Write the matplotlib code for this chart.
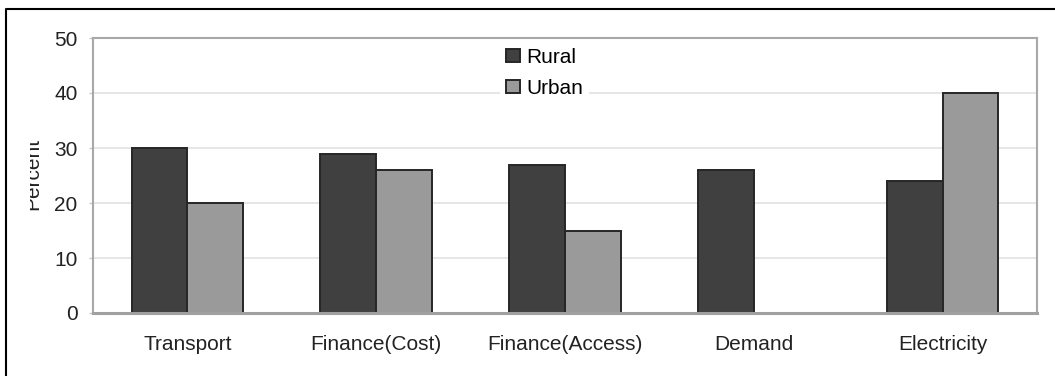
import numpy as np
import matplotlib
matplotlib.use("Agg")
import matplotlib.pyplot as plt
from matplotlib.lines import Line2D
from matplotlib.patches import Patch
from matplotlib.transforms import Bbox, TransformedBbox

plt.rcParams["font.family"] = ["Liberation Sans", "DejaVu Sans"]

categories = ["Transport", "Finance(Cost)", "Finance(Access)", "Demand", "Electricity"]
rural = [30, 29, 27, 26, 24]
urban = [20, 26, 15, 0, 40]
yticks = [0, 10, 20, 30, 40, 50]

W, H = 1055, 376
fig = plt.figure(figsize=(W / 100, H / 100), dpi=100)
ax = fig.add_axes([93 / W, 1 - 313 / H, (1037 - 93) / W, (313 - 38) / H])

x = np.arange(len(categories))
bw = 0.296
ax.bar(x - bw / 2, rural, bw, color="#404040", edgecolor="#262626", linewidth=1.4, zorder=3)
ax.bar(x + bw / 2, urban, bw, color="#9a9a9a", edgecolor="#262626", linewidth=1.4, zorder=3)

ax.set_xlim(-0.5, len(categories) - 0.5)
ax.set_ylim(0, 50)
ax.set_yticks(yticks)
ax.set_xticks(x)
ax.set_xticklabels(categories, fontsize=15, color="#222222")
ax.tick_params(axis="x", length=0, pad=16)
ax.tick_params(axis="y", length=3, width=1, color="#c8c8c8", pad=8, labelsize=15, labelcolor="#222222")

for v in yticks[1:-1]:
    ax.axhline(v, color="#e2e2e2", linewidth=1.2, zorder=1)

for side in ["top", "left", "right"]:
    ax.spines[side].set_color("#a8a8a8")
    ax.spines[side].set_linewidth(1.5)
ax.spines["bottom"].set_color("#a0a0a0")
ax.spines["bottom"].set_linewidth(2.2)
ax.spines["bottom"].set_zorder(4)

handles = [Patch(facecolor="#404040", edgecolor="#262626", linewidth=1.4, label="Rural"),
           Patch(facecolor="#9a9a9a", edgecolor="#262626", linewidth=1.4, label="Urban")]
leg = ax.legend(handles=handles, loc="upper left", bbox_to_anchor=(0.431, 0.987),
                borderaxespad=0, borderpad=0.3, frameon=True, fancybox=False,
                handlelength=0.67, handleheight=0.58, handletextpad=0.3,
                labelspacing=0.6, fontsize=15)
leg.get_frame().set_facecolor("white")
leg.get_frame().set_edgecolor("none")
leg.get_frame().set_alpha(1)
leg.set_zorder(5)

# y label, partly cut off at the left
lab = fig.text(42.5 / W, 1 - 174 / H, "Percent", rotation=90, fontsize=15,
               color="#222222", ha="right", va="center")
lab.set_clip_box(TransformedBbox(Bbox([[29.5 / W, 0], [1, 1]]), fig.transFigure))
lab.set_clip_on(True)

# outer frame (top and left edges)
fig.add_artist(Line2D([6 / W, 6 / W, 1], [0, 1 - 9 / H, 1 - 9 / H],
                      transform=fig.transFigure, color="black", linewidth=1.5))

fig.savefig("out.png", dpi=100)
